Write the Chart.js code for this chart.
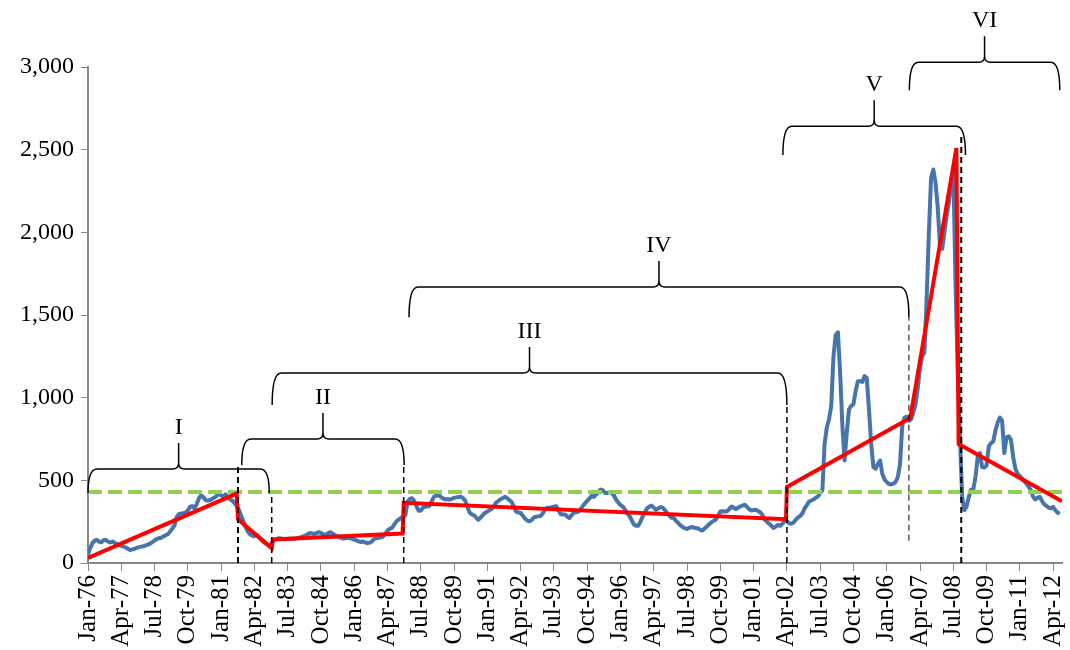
<!DOCTYPE html>
<html>
<head>
<meta charset="utf-8">
<script src="https://cdn.jsdelivr.net/npm/chart.js@4"></script>
<style>
  body { margin: 0; background: #fff; }
  canvas { display: block; }
</style>
</head>
<body>
<canvas id="myChart" width="1070" height="650"></canvas>
<script>
  // x axis: months since Jan-76, a label every 15 months
  const tickLabels = ['Jan-76', 'Apr-77', 'Jul-78', 'Oct-79', 'Jan-81', 'Apr-82', 'Jul-83', 'Oct-84',
    'Jan-86', 'Apr-87', 'Jul-88', 'Oct-89', 'Jan-91', 'Apr-92', 'Jul-93', 'Oct-94', 'Jan-96',
    'Apr-97', 'Jul-98', 'Oct-99', 'Jan-01', 'Apr-02', 'Jul-03', 'Oct-04', 'Jan-06', 'Apr-07',
    'Jul-08', 'Oct-09', 'Jan-11', 'Apr-12'];

  // monthly series, Jan-76 .. Jul-12 (one row per year)
  const monthlyValues = [
    50, 92, 120, 135, 140, 128, 125, 138, 140, 130, 124, 130,
    122, 116, 108, 104, 100, 94, 86, 78, 82, 86, 91, 96,
    99, 101, 106, 111, 117, 126, 136, 145, 150, 153, 161, 168,
    174, 190, 208, 228, 278, 296, 300, 301, 306, 318, 340, 344,
    330, 356, 392, 410, 398, 380, 377, 381, 389, 396, 406, 418,
    410, 402, 415, 395, 386, 378, 364, 345, 322, 286, 255, 218,
    192, 173, 166, 162, 170, 155, 141, 128, 119, 110, 101, 122,
    139, 145, 150, 148, 145, 143, 145, 147, 146, 146, 149, 152,
    156, 161, 166, 175, 181, 178, 176, 181, 186, 182, 174, 170,
    178, 186, 181, 170, 164, 157, 151, 148, 150, 153, 150, 146,
    142, 137, 131, 127, 130, 124, 120, 123, 131, 146, 150, 152,
    155, 160, 176, 196, 206, 212, 232, 252, 262, 272, 281, 288,
    370, 388, 392, 376, 345, 316, 318, 335, 340, 342, 346, 376,
    402, 408, 410, 400, 391, 385, 386, 384, 388, 394, 397, 399,
    401, 392, 377, 340, 305, 294, 288, 274, 262, 276, 291, 304,
    311, 320, 327, 346, 366, 376, 386, 393, 400, 391, 380, 368,
    340, 311, 305, 302, 285, 268, 257, 252, 261, 276, 280, 282,
    284, 301, 325, 334, 334, 337, 341, 344, 320, 296, 293, 293,
    281, 272, 290, 304, 307, 311, 326, 344, 361, 376, 391, 406,
    400, 415, 427, 444, 440, 425, 423, 430, 423, 410, 384, 366,
    350, 342, 324, 300, 286, 260, 233, 226, 225, 250, 281, 306,
    331, 341, 347, 335, 322, 330, 338, 335, 320, 302, 288, 273,
    272, 255, 242, 228, 218, 210, 206, 212, 218, 215, 212, 209,
    200, 197, 210, 221, 235, 246, 255, 263, 285, 312, 313, 312,
    313, 326, 342, 335, 326, 335, 342, 348, 352, 340, 325, 318,
    320, 322, 315, 306, 290, 263, 250, 238, 225, 212, 220, 231,
    225, 238, 255, 255, 240, 238, 245, 262, 275, 285, 300, 330,
    350, 372, 378, 384, 395, 403, 423, 440, 720, 820, 870, 950,
    1250, 1380, 1395, 1150, 830, 620, 790, 930, 950, 960, 1040, 1100,
    1100, 1095, 1130, 1120, 930, 720, 580, 570, 600, 620, 540, 505,
    490, 478, 475, 480, 490, 520, 600, 830, 880, 885, 860, 870,
    910, 960, 1060, 1180, 1250, 1275, 1600, 2000, 2330, 2380, 2300, 2150,
    1920, 1900, 2000, 2100, 2180, 2300, 2380, 1700, 1150, 760, 400, 320,
    342, 400, 443, 443, 520, 640, 665, 580, 578, 590, 705, 725,
    735, 800, 850, 880, 860, 665, 760, 766, 745, 640, 570, 540,
    525, 510, 495, 480, 460, 440, 400, 385, 395, 400, 375, 355,
    345, 335, 330, 340, 320, 305, 298
  ];

  // piecewise trend (red), month index / value
  const trendMonths = [0, 67, 67.6, 82.8, 83.3, 141.8, 142.3, 314.6, 315, 370.6, 391.4, 392.4, 439];
  const trendValues = [30, 420, 264, 90, 142, 178, 364, 265, 460, 877, 2510, 720, 374];

  // horizontal reference level (green dashed)
  const referenceMonths = [0, 439];
  const referenceValues = [430, 430];

  // period brackets
  const braceLabels = ['I', 'II', 'III', 'IV', 'V', 'VI'];
  const braceStart = [0, 69.3, 83, 144.7, 313.2, 370.2];
  const braceEnd = [81.7, 142.5, 315, 370, 395.5, 438];
  const braceTop = [568, 750, 1149, 1669, 2642, 3029];
  const braceFoot = [423, 592, 955, 1487, 2467, 2860];

  // vertical dashed break lines
  const breakMonths = [67.6, 82.8, 142.3, 315, 370, 393.6];
  const breakFrom = [0, 0, 0, 0, 135, 0];
  const breakTo = [592, 423, 600, 955, 1487, 2580];

  const serif = "'Liberation Serif', 'Times New Roman', serif";

  const annotations = {
    id: 'annotations',
    afterDatasetsDraw(chart) {
      const { ctx, scales: { x, y } } = chart;
      const widths = [2, 1.5, 1.5, 1.5, 1, 2];
      ctx.save();
      ctx.strokeStyle = '#000';
      ctx.setLineDash([6, 4]);
      breakMonths.forEach((m, i) => {
        const px = x.getPixelForValue(m);
        ctx.lineWidth = widths[i];
        ctx.beginPath();
        ctx.moveTo(px, y.getPixelForValue(breakFrom[i]));
        ctx.lineTo(px, y.getPixelForValue(breakTo[i]));
        ctx.stroke();
      });

      ctx.setLineDash([]);
      ctx.lineWidth = 1.5;
      ctx.fillStyle = '#000';
      ctx.font = '24px ' + serif;
      ctx.textAlign = 'center';
      ctx.textBaseline = 'alphabetic';
      const r = 9, c = 6, tip = 26;
      braceLabels.forEach((lab, i) => {
        const x0 = x.getPixelForValue(braceStart[i]);
        const x1 = x.getPixelForValue(braceEnd[i]);
        const xm = (x0 + x1) / 2;
        const yt = y.getPixelForValue(braceTop[i]);
        const yf = y.getPixelForValue(braceFoot[i]);
        ctx.beginPath();
        ctx.moveTo(x0, yf);
        ctx.quadraticCurveTo(x0, yt, x0 + r, yt);
        ctx.lineTo(xm - c, yt);
        ctx.quadraticCurveTo(xm, yt, xm, yt - c);
        ctx.lineTo(xm, yt - tip);
        ctx.moveTo(xm, yt - c);
        ctx.quadraticCurveTo(xm, yt, xm + c, yt);
        ctx.lineTo(x1 - r, yt);
        ctx.quadraticCurveTo(x1, yt, x1, yf);
        ctx.stroke();
        ctx.fillText(lab, xm, yt - tip - 9);
      });
      ctx.restore();
    }
  };

  const ctx = document.getElementById('myChart').getContext('2d');
  new Chart(ctx, {
    type: 'line',
    data: {
      datasets: [{
        data: trendMonths.map((m, i) => ({ x: m, y: trendValues[i] })),
        borderColor: '#ff0000',
        borderWidth: 4,
        pointRadius: 0,
        tension: 0
      }, {
        data: referenceMonths.map((m, i) => ({ x: m, y: referenceValues[i] })),
        borderColor: '#92d050',
        borderWidth: 4,
        borderDash: [14, 6],
        pointRadius: 0
      }, {
        data: monthlyValues.map((v, i) => ({ x: i, y: v })),
        borderColor: '#4674ab',
        borderWidth: 4,
        borderJoinStyle: 'round',
        pointRadius: 0,
        tension: 0
      }]
    },
    options: {
      responsive: false,
      animation: false,
      layout: { padding: { top: 67, right: 8, left: 0, bottom: 0 } },
      plugins: { legend: { display: false }, tooltip: { enabled: false } },
      scales: {
        x: {
          type: 'linear',
          min: 0,
          max: 439,
          afterFit: (s) => { s.height = 87; s.paddingLeft = 0; s.paddingRight = 0; },
          grid: { drawOnChartArea: false, color: '#888', tickLength: 8 },
          border: { color: '#888', width: 2 },
          ticks: {
            stepSize: 15,
            maxTicksLimit: 100,
            autoSkip: false,
            includeBounds: false,
            minRotation: 90,
            maxRotation: 90,
            padding: 4,
            color: '#000',
            font: { family: serif, size: 25 },
            callback: (v) => (v % 15 === 0 ? tickLabels[v / 15] : '')
          }
        },
        y: {
          min: 0,
          max: 3000,
          afterFit: (s) => { s.width = 88; },
          grid: { drawOnChartArea: false, color: '#888', tickLength: 7 },
          border: { color: '#888', width: 2 },
          ticks: {
            stepSize: 500,
            padding: 7,
            color: '#000',
            font: { family: serif, size: 24 }
          }
        }
      }
    },
    plugins: [annotations]
  });
</script>
</body>
</html>
